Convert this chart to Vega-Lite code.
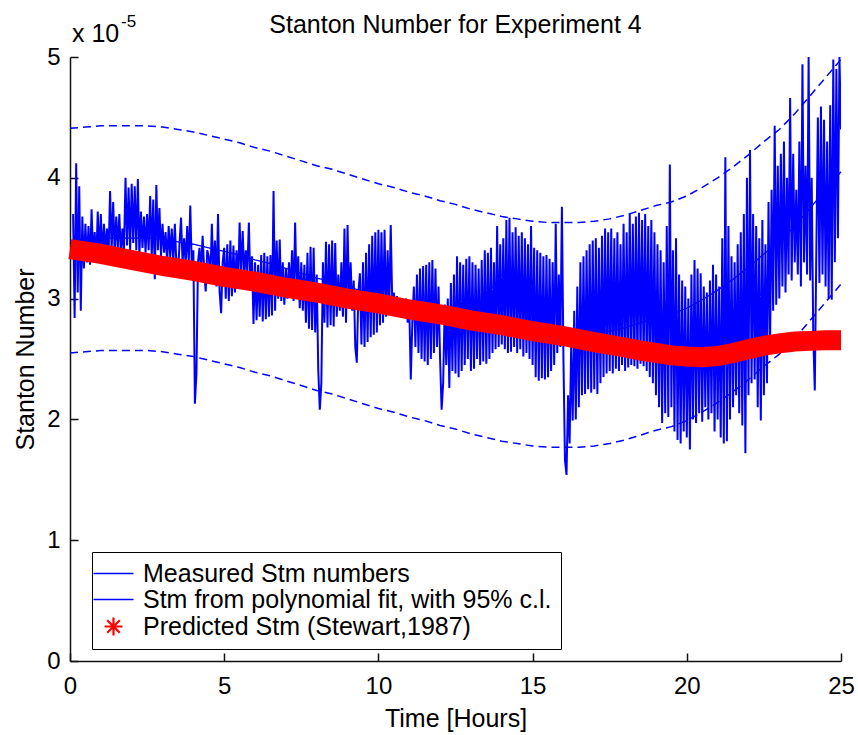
{
"$schema": "https://vega.github.io/schema/vega-lite/v6.json",
"width": 771, "height": 604,
"autosize": {"type": "none"},
"padding": {"left": 70, "top": 57, "right": 17, "bottom": 74},
"background": "white",
"title": {"text": "Stanton Number for Experiment 4", "font": "Liberation Sans", "fontSize": 25, "fontWeight": "normal", "color": "black", "anchor": "middle", "frame": "group", "baseline": "alphabetic", "offset": -45},
"datasets": {
"measured": [
{"t":0.10,"s":3.70},{"t":0.15,"s":2.84},{"t":0.20,"s":4.12},{"t":0.25,"s":3.05},{"t":0.30,"s":3.93},{"t":0.35,"s":2.90},{"t":0.40,"s":3.68},{"t":0.45,"s":3.25},{"t":0.50,"s":3.62},{"t":0.55,"s":3.30},{"t":0.60,"s":3.60},{"t":0.65,"s":3.28},{"t":0.70,"s":3.74},{"t":0.75,"s":3.32},{"t":0.80,"s":3.55},{"t":0.85,"s":3.30},{"t":0.90,"s":3.72},{"t":0.95,"s":3.35},
{"t":1.00,"s":3.70},{"t":1.05,"s":3.33},{"t":1.10,"s":3.62},{"t":1.15,"s":3.38},{"t":1.20,"s":3.58},{"t":1.25,"s":3.36},{"t":1.30,"s":3.89},{"t":1.35,"s":3.40},{"t":1.40,"s":3.80},{"t":1.45,"s":3.38},{"t":1.50,"s":3.68},{"t":1.55,"s":3.42},{"t":1.60,"s":3.70},{"t":1.65,"s":3.36},{"t":1.70,"s":3.58},{"t":1.75,"s":3.40},{"t":1.80,"s":4.00},{"t":1.85,"s":3.44},{"t":1.90,"s":3.92},{"t":1.95,"s":3.40},
{"t":2.00,"s":3.95},{"t":2.05,"s":3.46},{"t":2.10,"s":3.93},{"t":2.15,"s":3.40},{"t":2.20,"s":3.99},{"t":2.25,"s":3.36},{"t":2.30,"s":3.72},{"t":2.35,"s":3.42},{"t":2.40,"s":3.68},{"t":2.45,"s":3.38},{"t":2.50,"s":3.70},{"t":2.55,"s":3.40},{"t":2.60,"s":3.85},{"t":2.65,"s":3.34},{"t":2.70,"s":3.82},{"t":2.75,"s":3.16},{"t":2.80,"s":3.94},{"t":2.85,"s":3.40},{"t":2.90,"s":3.75},{"t":2.95,"s":3.35},
{"t":3.00,"s":3.62},{"t":3.05,"s":3.38},{"t":3.10,"s":3.55},{"t":3.15,"s":3.30},{"t":3.20,"s":3.60},{"t":3.25,"s":3.34},{"t":3.30,"s":3.58},{"t":3.35,"s":3.30},{"t":3.40,"s":3.62},{"t":3.45,"s":3.28},{"t":3.50,"s":3.19},{"t":3.55,"s":3.45},{"t":3.60,"s":3.67},{"t":3.65,"s":3.30},{"t":3.70,"s":3.50},{"t":3.75,"s":3.28},{"t":3.80,"s":3.60},{"t":3.85,"s":3.30},{"t":3.90,"s":3.77},{"t":3.95,"s":3.25},
{"t":4.00,"s":3.40},{"t":4.05,"s":2.13},{"t":4.10,"s":2.38},{"t":4.15,"s":3.30},{"t":4.20,"s":3.42},{"t":4.25,"s":3.22},{"t":4.30,"s":3.52},{"t":4.35,"s":3.24},{"t":4.40,"s":3.06},{"t":4.45,"s":3.40},{"t":4.50,"s":3.35},{"t":4.55,"s":3.15},{"t":4.60,"s":3.62},{"t":4.65,"s":3.18},{"t":4.70,"s":3.48},{"t":4.75,"s":3.10},{"t":4.80,"s":3.70},{"t":4.85,"s":3.06},{"t":4.90,"s":2.88},{"t":4.95,"s":3.30},
{"t":5.00,"s":3.42},{"t":5.05,"s":3.00},{"t":5.10,"s":3.45},{"t":5.15,"s":2.98},{"t":5.20,"s":3.48},{"t":5.25,"s":3.02},{"t":5.30,"s":3.44},{"t":5.35,"s":3.05},{"t":5.40,"s":3.40},{"t":5.45,"s":3.10},{"t":5.50,"s":3.63},{"t":5.55,"s":3.20},{"t":5.60,"s":3.56},{"t":5.65,"s":3.18},{"t":5.70,"s":3.40},{"t":5.75,"s":3.22},{"t":5.80,"s":3.63},{"t":5.85,"s":3.10},{"t":5.90,"s":3.35},{"t":5.95,"s":2.79},
{"t":6.00,"s":3.30},{"t":6.05,"s":2.82},{"t":6.10,"s":3.28},{"t":6.15,"s":2.85},{"t":6.20,"s":3.36},{"t":6.25,"s":2.81},{"t":6.30,"s":3.38},{"t":6.35,"s":2.83},{"t":6.40,"s":3.35},{"t":6.45,"s":2.85},{"t":6.50,"s":3.36},{"t":6.55,"s":2.86},{"t":6.60,"s":3.89},{"t":6.65,"s":2.90},{"t":6.70,"s":3.48},{"t":6.75,"s":3.00},{"t":6.80,"s":3.49},{"t":6.85,"s":2.98},{"t":6.90,"s":3.30},{"t":6.95,"s":2.95},
{"t":7.00,"s":3.25},{"t":7.05,"s":3.00},{"t":7.10,"s":3.30},{"t":7.15,"s":3.05},{"t":7.20,"s":3.40},{"t":7.25,"s":2.98},{"t":7.30,"s":3.63},{"t":7.35,"s":3.05},{"t":7.40,"s":3.35},{"t":7.45,"s":2.92},{"t":7.50,"s":3.30},{"t":7.55,"s":2.90},{"t":7.60,"s":3.28},{"t":7.65,"s":2.80},{"t":7.70,"s":3.38},{"t":7.75,"s":2.75},{"t":7.80,"s":3.43},{"t":7.85,"s":2.74},{"t":7.90,"s":3.42},{"t":7.95,"s":2.72},
{"t":8.00,"s":3.20},{"t":8.05,"s":2.41},{"t":8.10,"s":2.08},{"t":8.15,"s":2.30},{"t":8.20,"s":3.30},{"t":8.25,"s":2.80},{"t":8.30,"s":3.47},{"t":8.35,"s":2.76},{"t":8.40,"s":3.45},{"t":8.45,"s":2.78},{"t":8.50,"s":3.48},{"t":8.55,"s":2.77},{"t":8.60,"s":3.46},{"t":8.65,"s":2.85},{"t":8.70,"s":3.20},{"t":8.75,"s":2.90},{"t":8.80,"s":3.30},{"t":8.85,"s":2.85},{"t":8.90,"s":3.58},{"t":8.95,"s":2.80},
{"t":9.00,"s":3.61},{"t":9.05,"s":2.95},{"t":9.10,"s":3.30},{"t":9.15,"s":2.90},{"t":9.20,"s":3.15},{"t":9.25,"s":2.60},{"t":9.30,"s":2.47},{"t":9.35,"s":3.05},{"t":9.40,"s":3.21},{"t":9.45,"s":2.62},{"t":9.50,"s":3.30},{"t":9.55,"s":2.60},{"t":9.60,"s":3.38},{"t":9.65,"s":2.64},{"t":9.70,"s":3.45},{"t":9.75,"s":2.68},{"t":9.80,"s":3.52},{"t":9.85,"s":2.70},{"t":9.90,"s":3.55},{"t":9.95,"s":2.72},
{"t":10.00,"s":3.57},{"t":10.05,"s":2.78},{"t":10.10,"s":3.55},{"t":10.15,"s":2.80},{"t":10.20,"s":3.57},{"t":10.25,"s":2.85},{"t":10.30,"s":3.40},{"t":10.35,"s":2.90},{"t":10.40,"s":3.61},{"t":10.45,"s":2.95},{"t":10.50,"s":3.05},{"t":10.55,"s":2.88},{"t":10.60,"s":3.02},{"t":10.65,"s":2.85},{"t":10.70,"s":3.00},{"t":10.75,"s":2.86},{"t":10.80,"s":2.98},{"t":10.85,"s":2.84},{"t":10.90,"s":3.00},{"t":10.95,"s":2.80},
{"t":11.00,"s":2.95},{"t":11.05,"s":2.33},{"t":11.10,"s":2.80},{"t":11.15,"s":3.10},{"t":11.20,"s":2.60},{"t":11.25,"s":3.20},{"t":11.30,"s":2.55},{"t":11.35,"s":3.25},{"t":11.40,"s":2.50},{"t":11.45,"s":3.27},{"t":11.50,"s":2.48},{"t":11.55,"s":3.28},{"t":11.60,"s":2.45},{"t":11.65,"s":3.30},{"t":11.70,"s":2.50},{"t":11.75,"s":3.32},{"t":11.80,"s":2.55},{"t":11.85,"s":3.25},{"t":11.90,"s":2.60},{"t":11.95,"s":3.10},
{"t":12.00,"s":2.50},{"t":12.05,"s":2.08},{"t":12.10,"s":2.30},{"t":12.15,"s":2.95},{"t":12.20,"s":2.45},{"t":12.25,"s":3.00},{"t":12.30,"s":2.26},{"t":12.35,"s":3.13},{"t":12.40,"s":2.40},{"t":12.45,"s":3.20},{"t":12.50,"s":2.38},{"t":12.55,"s":3.35},{"t":12.60,"s":2.35},{"t":12.65,"s":3.30},{"t":12.70,"s":2.40},{"t":12.75,"s":3.28},{"t":12.80,"s":2.45},{"t":12.85,"s":3.33},{"t":12.90,"s":2.50},{"t":12.95,"s":3.35},
{"t":13.00,"s":2.40},{"t":13.05,"s":3.30},{"t":13.10,"s":2.42},{"t":13.15,"s":3.28},{"t":13.20,"s":2.50},{"t":13.25,"s":3.25},{"t":13.30,"s":2.45},{"t":13.35,"s":3.32},{"t":13.40,"s":2.48},{"t":13.45,"s":3.40},{"t":13.50,"s":2.46},{"t":13.55,"s":3.38},{"t":13.60,"s":2.50},{"t":13.65,"s":3.42},{"t":13.70,"s":2.55},{"t":13.75,"s":3.30},{"t":13.80,"s":2.58},{"t":13.85,"s":3.60},{"t":13.90,"s":2.60},{"t":13.95,"s":3.45},
{"t":14.00,"s":2.62},{"t":14.05,"s":3.50},{"t":14.10,"s":2.58},{"t":14.15,"s":3.65},{"t":14.20,"s":2.55},{"t":14.25,"s":3.67},{"t":14.30,"s":2.56},{"t":14.35,"s":3.55},{"t":14.40,"s":2.60},{"t":14.45,"s":3.59},{"t":14.50,"s":2.55},{"t":14.55,"s":3.52},{"t":14.60,"s":2.58},{"t":14.65,"s":3.55},{"t":14.70,"s":2.52},{"t":14.75,"s":3.50},{"t":14.80,"s":2.55},{"t":14.85,"s":3.45},{"t":14.90,"s":2.50},{"t":14.95,"s":3.60},
{"t":15.00,"s":2.45},{"t":15.05,"s":3.42},{"t":15.10,"s":2.35},{"t":15.15,"s":3.40},{"t":15.20,"s":2.32},{"t":15.25,"s":3.38},{"t":15.30,"s":2.34},{"t":15.35,"s":3.35},{"t":15.40,"s":2.33},{"t":15.45,"s":3.36},{"t":15.50,"s":2.35},{"t":15.55,"s":3.33},{"t":15.60,"s":2.40},{"t":15.65,"s":3.30},{"t":15.70,"s":2.45},{"t":15.75,"s":3.62},{"t":15.80,"s":2.55},{"t":15.85,"s":3.20},{"t":15.90,"s":2.60},{"t":15.95,"s":3.76},
{"t":16.00,"s":2.50},{"t":16.05,"s":1.66},{"t":16.10,"s":1.54},{"t":16.15,"s":2.20},{"t":16.20,"s":1.80},{"t":16.25,"s":2.60},{"t":16.30,"s":1.99},{"t":16.35,"s":2.90},{"t":16.40,"s":2.00},{"t":16.45,"s":3.10},{"t":16.50,"s":2.10},{"t":16.55,"s":3.30},{"t":16.60,"s":2.20},{"t":16.65,"s":3.35},{"t":16.70,"s":2.21},{"t":16.75,"s":3.40},{"t":16.80,"s":2.25},{"t":16.85,"s":3.45},{"t":16.90,"s":2.22},{"t":16.95,"s":3.48},
{"t":17.00,"s":2.25},{"t":17.05,"s":3.50},{"t":17.10,"s":2.21},{"t":17.15,"s":3.42},{"t":17.20,"s":2.30},{"t":17.25,"s":3.52},{"t":17.30,"s":2.35},{"t":17.35,"s":3.58},{"t":17.40,"s":2.38},{"t":17.45,"s":3.55},{"t":17.50,"s":2.40},{"t":17.55,"s":3.58},{"t":17.60,"s":2.38},{"t":17.65,"s":3.50},{"t":17.70,"s":2.42},{"t":17.75,"s":3.55},{"t":17.80,"s":2.40},{"t":17.85,"s":3.45},{"t":17.90,"s":2.45},{"t":17.95,"s":3.62},
{"t":18.00,"s":2.40},{"t":18.05,"s":3.55},{"t":18.10,"s":2.43},{"t":18.15,"s":3.70},{"t":18.20,"s":2.45},{"t":18.25,"s":3.62},{"t":18.30,"s":2.44},{"t":18.35,"s":3.68},{"t":18.40,"s":2.42},{"t":18.45,"s":3.71},{"t":18.50,"s":2.46},{"t":18.55,"s":3.65},{"t":18.60,"s":2.44},{"t":18.65,"s":3.70},{"t":18.70,"s":2.40},{"t":18.75,"s":3.60},{"t":18.80,"s":2.35},{"t":18.85,"s":3.65},{"t":18.90,"s":2.30},{"t":18.95,"s":3.55},
{"t":19.00,"s":2.20},{"t":19.05,"s":3.45},{"t":19.10,"s":2.10},{"t":19.15,"s":3.40},{"t":19.20,"s":1.97},{"t":19.25,"s":3.30},{"t":19.30,"s":2.05},{"t":19.35,"s":3.60},{"t":19.40,"s":2.02},{"t":19.45,"s":4.11},{"t":19.50,"s":2.10},{"t":19.55,"s":3.40},{"t":19.60,"s":1.90},{"t":19.65,"s":3.50},{"t":19.70,"s":1.83},{"t":19.75,"s":3.20},{"t":19.80,"s":1.80},{"t":19.85,"s":3.15},{"t":19.90,"s":1.90},{"t":19.95,"s":3.10},
{"t":20.00,"s":1.85},{"t":20.05,"s":3.00},{"t":20.10,"s":1.75},{"t":20.15,"s":3.20},{"t":20.20,"s":2.00},{"t":20.25,"s":3.32},{"t":20.30,"s":1.97},{"t":20.35,"s":3.25},{"t":20.40,"s":2.05},{"t":20.45,"s":3.21},{"t":20.50,"s":1.98},{"t":20.55,"s":3.10},{"t":20.60,"s":2.10},{"t":20.65,"s":3.05},{"t":20.70,"s":2.00},{"t":20.75,"s":3.15},{"t":20.80,"s":2.05},{"t":20.85,"s":3.28},{"t":20.90,"s":1.90},{"t":20.95,"s":3.20},
{"t":21.00,"s":2.00},{"t":21.05,"s":3.10},{"t":21.10,"s":1.85},{"t":21.15,"s":3.50},{"t":21.20,"s":1.80},{"t":21.25,"s":4.17},{"t":21.30,"s":1.82},{"t":21.35,"s":3.60},{"t":21.40,"s":2.00},{"t":21.45,"s":3.35},{"t":21.50,"s":2.10},{"t":21.55,"s":3.30},{"t":21.60,"s":2.20},{"t":21.65,"s":3.45},{"t":21.70,"s":2.05},{"t":21.75,"s":3.55},{"t":21.80,"s":1.95},{"t":21.85,"s":3.70},{"t":21.90,"s":1.72},{"t":21.95,"s":4.00},
{"t":22.00,"s":2.20},{"t":22.05,"s":4.23},{"t":22.10,"s":2.30},{"t":22.15,"s":3.70},{"t":22.20,"s":2.33},{"t":22.25,"s":3.60},{"t":22.30,"s":2.10},{"t":22.35,"s":3.50},{"t":22.40,"s":1.99},{"t":22.45,"s":3.65},{"t":22.50,"s":2.20},{"t":22.55,"s":3.45},{"t":22.60,"s":2.30},{"t":22.65,"s":3.80},{"t":22.70,"s":2.60},{"t":22.75,"s":3.90},{"t":22.80,"s":2.90},{"t":22.85,"s":4.43},{"t":22.90,"s":2.95},{"t":22.95,"s":4.10},
{"t":23.00,"s":3.00},{"t":23.05,"s":4.20},{"t":23.10,"s":3.10},{"t":23.15,"s":4.30},{"t":23.20,"s":3.05},{"t":23.25,"s":4.00},{"t":23.30,"s":3.20},{"t":23.35,"s":4.66},{"t":23.40,"s":3.15},{"t":23.45,"s":4.20},{"t":23.50,"s":3.30},{"t":23.55,"s":3.90},{"t":23.60,"s":3.20},{"t":23.65,"s":4.30},{"t":23.70,"s":3.10},{"t":23.75,"s":4.94},{"t":23.80,"s":3.30},{"t":23.85,"s":4.10},{"t":23.90,"s":3.20},{"t":23.95,"s":5.00},
{"t":24.00,"s":3.15},{"t":24.05,"s":4.00},{"t":24.10,"s":2.70},{"t":24.15,"s":2.24},{"t":24.20,"s":3.40},{"t":24.25,"s":4.50},{"t":24.30,"s":3.13},{"t":24.35,"s":4.59},{"t":24.40,"s":3.20},{"t":24.45,"s":4.48},{"t":24.50,"s":3.10},{"t":24.55,"s":4.30},{"t":24.60,"s":3.00},{"t":24.65,"s":4.60},{"t":24.70,"s":2.99},{"t":24.75,"s":4.98},{"t":24.80,"s":3.30},{"t":24.85,"s":4.90},{"t":24.90,"s":3.50},{"t":24.95,"s":5.00},{"t":25.00,"s":4.40}
],
"fit": [
{"t":0,"fit":3.48,"up":4.41,"lo":2.55},{"t":0.5,"fit":3.49,"up":4.42,"lo":2.56},{"t":1,"fit":3.50,"up":4.43,"lo":2.57},{"t":1.5,"fit":3.50,"up":4.43,"lo":2.57},{"t":2,"fit":3.50,"up":4.43,"lo":2.57},{"t":2.5,"fit":3.50,"up":4.43,"lo":2.57},{"t":3,"fit":3.49,"up":4.42,"lo":2.56},{"t":3.5,"fit":3.47,"up":4.40,"lo":2.54},{"t":4,"fit":3.45,"up":4.38,"lo":2.52},{"t":4.5,"fit":3.42,"up":4.35,"lo":2.49},
{"t":5,"fit":3.39,"up":4.32,"lo":2.46},{"t":5.5,"fit":3.36,"up":4.29,"lo":2.43},{"t":6,"fit":3.32,"up":4.25,"lo":2.39},{"t":6.5,"fit":3.29,"up":4.22,"lo":2.36},{"t":7,"fit":3.25,"up":4.18,"lo":2.32},{"t":7.5,"fit":3.21,"up":4.14,"lo":2.28},{"t":8,"fit":3.17,"up":4.10,"lo":2.24},{"t":8.5,"fit":3.14,"up":4.07,"lo":2.21},{"t":9,"fit":3.10,"up":4.03,"lo":2.17},{"t":9.5,"fit":3.06,"up":3.99,"lo":2.13},
{"t":10,"fit":3.02,"up":3.95,"lo":2.09},{"t":10.5,"fit":2.99,"up":3.92,"lo":2.06},{"t":11,"fit":2.95,"up":3.88,"lo":2.02},{"t":11.5,"fit":2.92,"up":3.85,"lo":1.99},{"t":12,"fit":2.88,"up":3.81,"lo":1.95},{"t":12.5,"fit":2.85,"up":3.78,"lo":1.92},{"t":13,"fit":2.81,"up":3.74,"lo":1.88},{"t":13.5,"fit":2.78,"up":3.71,"lo":1.85},{"t":14,"fit":2.75,"up":3.68,"lo":1.82},{"t":14.5,"fit":2.73,"up":3.66,"lo":1.80},
{"t":15,"fit":2.71,"up":3.64,"lo":1.78},{"t":15.5,"fit":2.70,"up":3.63,"lo":1.77},{"t":16,"fit":2.70,"up":3.63,"lo":1.77},{"t":16.5,"fit":2.70,"up":3.63,"lo":1.77},{"t":17,"fit":2.71,"up":3.64,"lo":1.78},{"t":17.5,"fit":2.73,"up":3.66,"lo":1.80},{"t":18,"fit":2.76,"up":3.69,"lo":1.83},{"t":18.5,"fit":2.80,"up":3.73,"lo":1.87},{"t":19,"fit":2.84,"up":3.77,"lo":1.91},{"t":19.5,"fit":2.87,"up":3.80,"lo":1.94},
{"t":20,"fit":2.92,"up":3.85,"lo":1.99},{"t":20.5,"fit":2.99,"up":3.92,"lo":2.06},{"t":21,"fit":3.07,"up":4.00,"lo":2.14},{"t":21.5,"fit":3.16,"up":4.09,"lo":2.23},{"t":22,"fit":3.26,"up":4.19,"lo":2.33},{"t":22.5,"fit":3.37,"up":4.30,"lo":2.44},{"t":23,"fit":3.47,"up":4.40,"lo":2.54},{"t":23.5,"fit":3.60,"up":4.53,"lo":2.67},{"t":24,"fit":3.75,"up":4.68,"lo":2.82},{"t":24.5,"fit":3.90,"up":4.83,"lo":2.97},{"t":25,"fit":4.05,"up":4.98,"lo":3.12}
],
"pred": [
{"t":0,"p":3.41},{"t":1,"p":3.37},{"t":2,"p":3.32},{"t":3,"p":3.27},{"t":4,"p":3.23},{"t":5,"p":3.18},{"t":6,"p":3.14},{"t":7,"p":3.09},{"t":8,"p":3.05},{"t":9,"p":3.00},{"t":10,"p":2.96},{"t":11,"p":2.91},{"t":12,"p":2.87},{"t":13,"p":2.82},{"t":14,"p":2.78},{"t":15,"p":2.73},{"t":16,"p":2.69},{"t":17,"p":2.64},{"t":18,"p":2.595},{"t":18.5,"p":2.57},{"t":19,"p":2.55},{"t":19.5,"p":2.53},{"t":20,"p":2.52},{"t":20.5,"p":2.515},{"t":21,"p":2.525},{"t":21.5,"p":2.55},{"t":22,"p":2.58},{"t":22.5,"p":2.61},{"t":23,"p":2.63},{"t":23.5,"p":2.645},{"t":24,"p":2.65},{"t":24.5,"p":2.655},{"t":25,"p":2.655}
]
},
"layer": [
{"data": {"name": "measured"},
 "mark": {"type": "line", "strokeWidth": 2, "clip": true},
 "encoding": {
  "x": {"field": "t", "type": "quantitative", "title": "Time [Hours]", "scale": {"domain": [0, 25], "nice": false, "zero": false}, "axis": {"values": [0, 5, 10, 15, 20, 25], "format": "d", "labelFlush": false, "labelOverlap": false}},
  "y": {"field": "s", "type": "quantitative", "title": "Stanton Number", "scale": {"domain": [0, 5], "nice": false}, "axis": {"values": [0, 1, 2, 3, 4, 5], "format": "d", "labelFlush": false, "labelOverlap": false}},
  "color": {"datum": "Measured Stm numbers", "type": "nominal",
    "scale": {"domain": ["Measured Stm numbers", "Stm from polynomial fit, with 95% c.l.", "Predicted Stm (Stewart,1987)"], "range": ["#0000ff", "#0000ff", "#ff0000"]},
    "legend": {"orient": "none", "legendX": 22, "legendY": 495, "title": null, "strokeColor": "black", "fillColor": "white", "padding": 9,
      "labelFontSize": 25, "labelFont": "Liberation Sans", "labelColor": "black", "labelLimit": 0, "labelOffset": 17,
      "symbolType": "stroke", "symbolSize": 1600, "symbolStrokeWidth": 1.5, "rowPadding": 0,
      "encode": {"symbols": {"update": {
        "shape": {"signal": "datum.value === 'Predicted Stm (Stewart,1987)' ? 'M-1,0L1,0M0,-1L0,1M-0.7,-0.7L0.7,0.7M-0.7,0.7L0.7,-0.7' : 'stroke'"},
        "size": {"signal": "datum.value === 'Predicted Stm (Stewart,1987)' ? 320 : 1600"},
        "strokeWidth": {"signal": "datum.value === 'Predicted Stm (Stewart,1987)' ? 2.2 : 1.5"},
        "fill": {"value": "transparent"}
      }}}
    }}
 }},
{"data": {"name": "fit"},
 "mark": {"type": "line", "strokeWidth": 1.3},
 "encoding": {
  "x": {"field": "t", "type": "quantitative", "title": "Time [Hours]"},
  "y": {"field": "fit", "type": "quantitative", "title": "Stanton Number"},
  "color": {"datum": "Stm from polynomial fit, with 95% c.l.", "type": "nominal"}
 }},
{"data": {"name": "fit"},
 "mark": {"type": "line", "strokeWidth": 1.5, "strokeDash": [8, 5]},
 "encoding": {
  "x": {"field": "t", "type": "quantitative", "title": "Time [Hours]"},
  "y": {"field": "up", "type": "quantitative", "title": "Stanton Number"},
  "color": {"datum": "Stm from polynomial fit, with 95% c.l.", "type": "nominal"}
 }},
{"data": {"name": "fit"},
 "mark": {"type": "line", "strokeWidth": 1.5, "strokeDash": [8, 5]},
 "encoding": {
  "x": {"field": "t", "type": "quantitative", "title": "Time [Hours]"},
  "y": {"field": "lo", "type": "quantitative", "title": "Stanton Number"},
  "color": {"datum": "Stm from polynomial fit, with 95% c.l.", "type": "nominal"}
 }},
{"data": {"name": "pred"},
 "mark": {"type": "line", "strokeWidth": 20, "strokeCap": "butt"},
 "encoding": {
  "x": {"field": "t", "type": "quantitative", "title": "Time [Hours]"},
  "y": {"field": "p", "type": "quantitative", "title": "Stanton Number"},
  "color": {"datum": "Predicted Stm (Stewart,1987)", "type": "nominal"}
 }},
{"data": {"values": [{}]},
 "mark": {"type": "text", "text": "x 10", "align": "left", "baseline": "alphabetic", "dx": 2, "dy": -15, "fontSize": 25, "font": "Liberation Sans", "color": "black"},
 "encoding": {"x": {"datum": 0, "type": "quantitative"}, "y": {"datum": 5, "type": "quantitative"}}},
{"data": {"values": [{}]},
 "mark": {"type": "text", "text": "-5", "align": "left", "baseline": "alphabetic", "dx": 51, "dy": -30, "fontSize": 17, "font": "Liberation Sans", "color": "black"},
 "encoding": {"x": {"datum": 0, "type": "quantitative"}, "y": {"datum": 5, "type": "quantitative"}}}
],
"config": {
 "view": {"stroke": null},
 "axis": {"grid": false, "domainColor": "#111", "tickColor": "#111", "labelColor": "#000", "titleColor": "#000", "labelFont": "Liberation Sans", "titleFont": "Liberation Sans", "labelFontSize": 24, "titleFontSize": 25, "titleFontWeight": "normal", "domainWidth": 1.5, "tickWidth": 1.5, "tickSize": -8},
 "axisX": {"labelPadding": 21, "titleBaseline": "alphabetic", "titleY": 65},
 "axisY": {"labelPadding": 18, "titleX": -37, "titleBaseline": "alphabetic"}
}
}
